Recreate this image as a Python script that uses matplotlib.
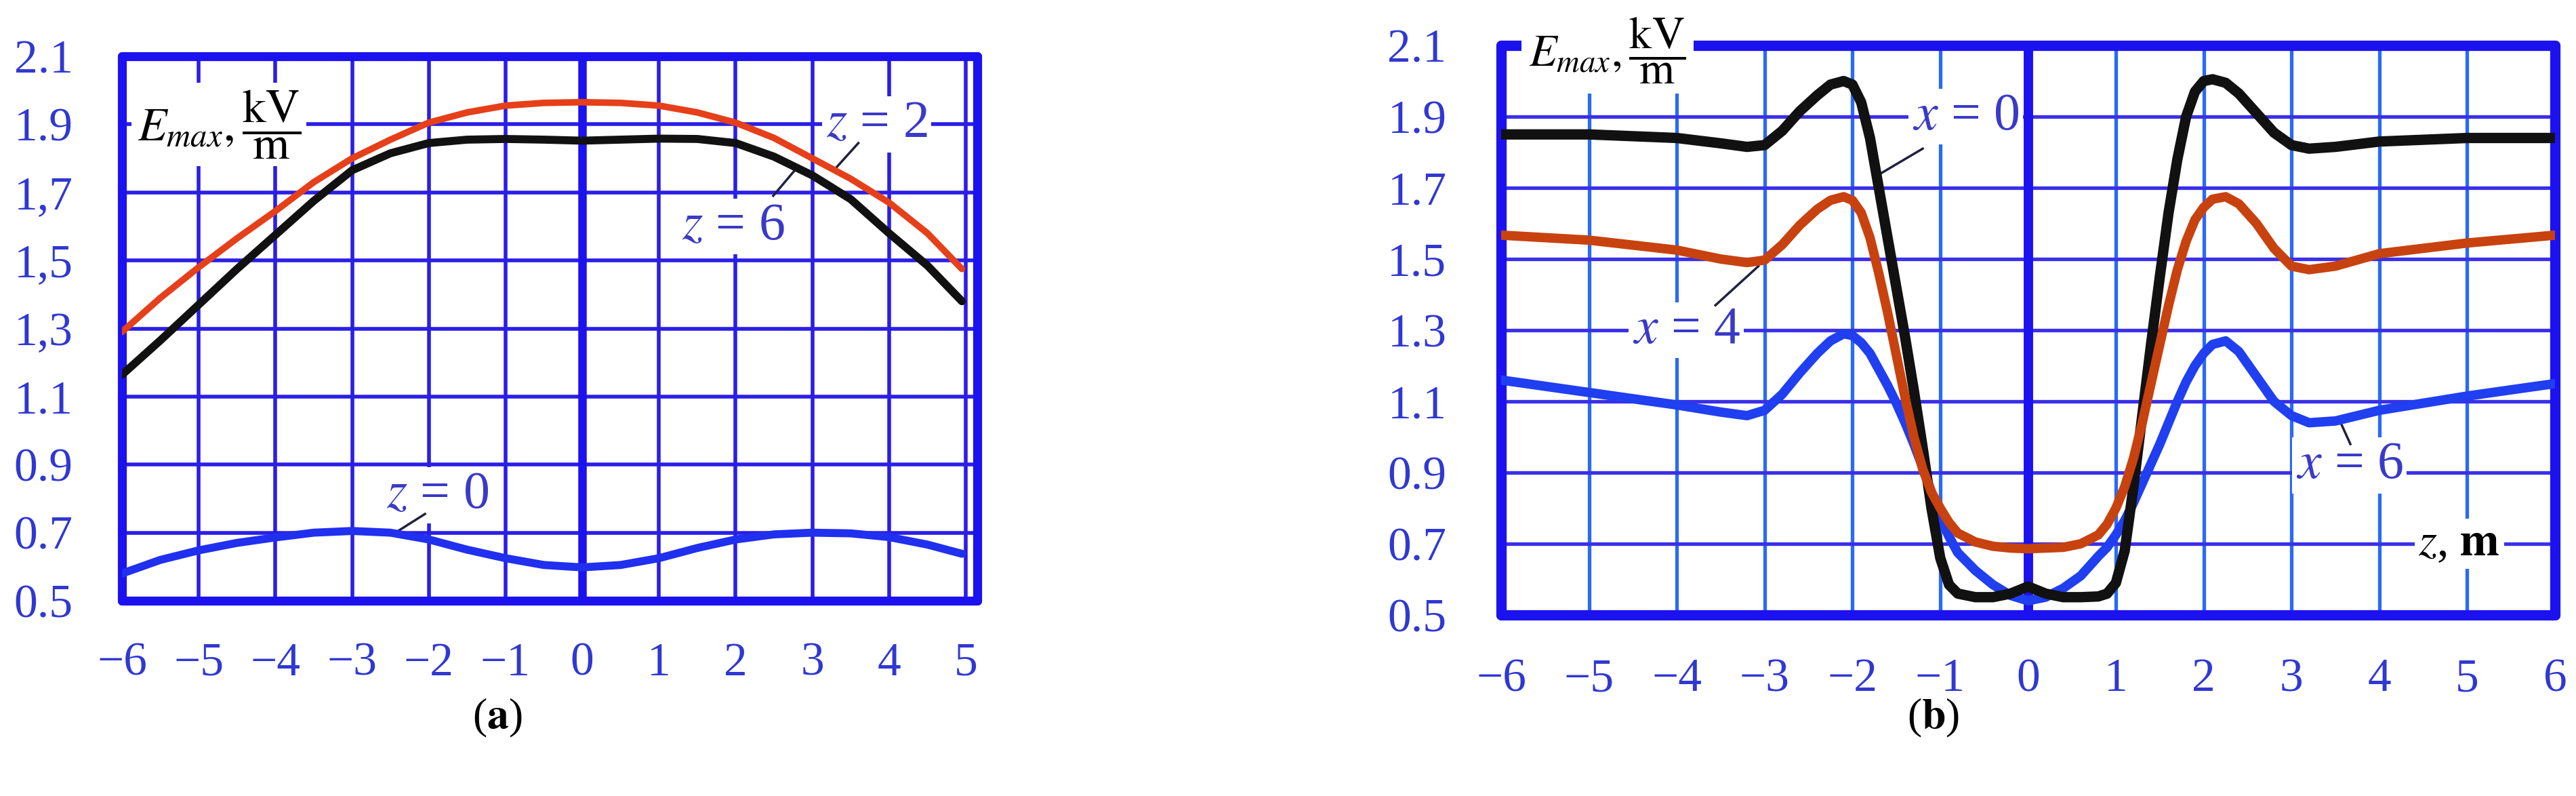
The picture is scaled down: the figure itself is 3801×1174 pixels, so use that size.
import matplotlib
matplotlib.use("Agg")
import matplotlib.pyplot as plt

plt.rcParams['font.family'] = ['Liberation Serif', 'DejaVu Serif']
plt.rcParams['mathtext.fontset'] = 'stix'

# ---------------- data: panel (a) ----------------
xa = [-6, -5.5, -5, -4.5, -4, -3.5, -3, -2.5, -2, -1.5, -1, -0.5, 0, 0.5, 1, 1.5, 2, 2.5, 3, 3.5, 4, 4.5, 4.95]
a_z2 = [1.29, 1.39, 1.48, 1.565, 1.645, 1.73, 1.80, 1.855, 1.905, 1.935, 1.955, 1.963, 1.965, 1.963, 1.955, 1.935, 1.905, 1.86, 1.80, 1.74, 1.67, 1.58, 1.475]
a_z6 = [1.164, 1.265, 1.37, 1.475, 1.575, 1.675, 1.765, 1.815, 1.845, 1.855, 1.857, 1.855, 1.852, 1.855, 1.858, 1.857, 1.845, 1.805, 1.75, 1.68, 1.58, 1.485, 1.38]
a_z0 = [0.58, 0.62, 0.648, 0.67, 0.686, 0.70, 0.705, 0.70, 0.68, 0.65, 0.625, 0.605, 0.598, 0.605, 0.625, 0.655, 0.68, 0.695, 0.70, 0.698, 0.687, 0.665, 0.638]

# ---------------- data: panel (b) ----------------
xb = [-6, -5, -4, -3.5, -3.2, -3, -2.8, -2.6, -2.4, -2.25, -2.1, -2, -1.9, -1.8, -1.7, -1.6, -1.5, -1.4, -1.3, -1.2,
      -1.1, -1, -0.9, -0.8, -0.6, -0.4, -0.2, 0, 0.2, 0.4, 0.6, 0.8, 0.9, 1, 1.1, 1.2, 1.3, 1.4, 1.5, 1.6,
      1.7, 1.8, 1.9, 2, 2.1, 2.25, 2.4, 2.6, 2.8, 3, 3.2, 3.5, 4, 5, 6]
b_x0 = [1.85, 1.85, 1.84, 1.825, 1.815, 1.82, 1.86, 1.915, 1.96, 1.99, 2.0, 1.99, 1.94, 1.84, 1.70, 1.56, 1.42, 1.28, 1.13, 0.97,
        0.80, 0.66, 0.585, 0.56, 0.55, 0.55, 0.56, 0.58, 0.56, 0.55, 0.55, 0.552, 0.56, 0.59, 0.68, 0.86, 1.06, 1.26, 1.45, 1.63,
        1.78, 1.90, 1.97, 2.0, 2.005, 1.995, 1.965, 1.91, 1.855, 1.82, 1.81, 1.815, 1.83, 1.84, 1.84]
b_x4 = [1.567, 1.553, 1.525, 1.50, 1.49, 1.497, 1.54, 1.595, 1.64, 1.665, 1.675, 1.665, 1.63, 1.56, 1.46, 1.35, 1.23, 1.11, 1.0, 0.91,
        0.845, 0.80, 0.76, 0.73, 0.705, 0.693, 0.688, 0.686, 0.688, 0.69, 0.70, 0.725, 0.755, 0.80, 0.86, 0.94, 1.04, 1.15, 1.26, 1.37,
        1.47, 1.55, 1.61, 1.645, 1.668, 1.675, 1.655, 1.60, 1.53, 1.48, 1.47, 1.48, 1.515, 1.545, 1.567]
b_x6 = [1.16, 1.125, 1.09, 1.07, 1.06, 1.075, 1.12, 1.18, 1.235, 1.27, 1.29, 1.285, 1.265, 1.235, 1.19, 1.145, 1.095, 1.04, 0.98, 0.915,
        0.845, 0.775, 0.72, 0.675, 0.625, 0.585, 0.555, 0.54, 0.55, 0.575, 0.61, 0.665, 0.69, 0.725, 0.765, 0.815, 0.87, 0.925, 0.98, 1.04,
        1.10, 1.155, 1.2, 1.235, 1.26, 1.27, 1.24, 1.17, 1.10, 1.06, 1.04, 1.045, 1.075, 1.115, 1.15]

# ---------------- ticks ----------------
yticks = [0.5, 0.7, 0.9, 1.1, 1.3, 1.5, 1.7, 1.9, 2.1]
ylabels_a = ['0.5', '0.7', '0.9', '1.1', '1,3', '1,5', '1,7', '1.9', '2.1']
ylabels_b = ['0.5', '0.7', '0.9', '1.1', '1.3', '1.5', '1.7', '1.9', '2.1']
xticks_a = [-6, -5, -4, -3, -2, -1, 0, 1, 2, 3, 4, 5]
xticks_b = [-6, -5, -4, -3, -2, -1, 0, 1, 2, 3, 4, 5, 6]

W, H = 3801, 1174
fig = plt.figure(figsize=(W / 100, H / 100), dpi=100)
fig.patch.set_facecolor('white')

FRAME = '#1c12f0'
TICKC = '#3038d2'
LBLC = '#3a3ac8'
WHITE = dict(facecolor='white', edgecolor='none', pad=4)


def px_axes(l, r, t, b):
    return fig.add_axes([l / W, 1 - b / H, (r - l) / W, (b - t) / H])


def setup(ax, xlim, xt, xl, yl, gridh, gridv, lw_grid, lw_frame, lw_zero, ypad, xpad):
    ax.set_xlim(*xlim)
    ax.set_ylim(0.5, 2.1)
    ax.set_xticks(xt)
    ax.set_xticklabels(xl)
    ax.set_yticks(yticks)
    ax.set_yticklabels(yl)
    ax.tick_params(axis='both', length=0, labelsize=50, labelcolor=TICKC)
    ax.tick_params(axis='y', pad=ypad)
    ax.tick_params(axis='x', pad=xpad)
    for v in xt:
        ax.axvline(v, color=gridv, lw=lw_grid, zorder=1)
    for v in yticks:
        ax.axhline(v, color=gridh, lw=lw_grid, zorder=1)
    ax.axvline(0, color=FRAME, lw=lw_zero, zorder=1.5)
    for s in ax.spines.values():
        s.set_color(FRAME)
        s.set_linewidth(lw_frame)
        s.set_zorder(2.5)
        s.set_capstyle('round')


def minus(v):
    return ('\u2212' + str(-v)) if v < 0 else str(v)


LINE = dict(solid_capstyle='round', solid_joinstyle='round')

# ---------------- panel (a) ----------------
axa = px_axes(180, 1442, 83, 886)
setup(axa, (-6, 5.15), xticks_a, [minus(v) for v in xticks_a], ylabels_a,
      '#2a1ee6', '#2a1ee6', 4.0, 9.5, 9.0, 52, 44)

axa.plot(xa, a_z0, color='#2030ee', lw=8.5, zorder=4, **LINE)
axa.plot(xa, a_z6, color='#111111', lw=8.5, zorder=4, **LINE)
axa.plot(xa, a_z2, color='#e5401a', lw=7.0, zorder=5, **LINE)

axa.text(-5.8, 1.9, r'$E_{max},\dfrac{\mathrm{kV}}{\mathrm{m}}$', fontsize=50, color='black',
         ha='left', va='center', bbox=dict(facecolor='white', edgecolor='none', pad=6), zorder=3)
axa.text(3.84, 1.9, r'$z$ = 2', fontsize=56, color=LBLC, ha='center', va='center', bbox=WHITE, zorder=3)
axa.plot([3.6, 3.32], [1.845, 1.775], color='#202040', lw=2.5, zorder=3.5)
axa.text(1.97, 1.60, r'$z$ = 6', fontsize=56, color=LBLC, ha='center', va='center', bbox=WHITE, zorder=3)
axa.plot([2.49, 2.79], [1.69, 1.77], color='#202040', lw=2.5, zorder=3.5)
axa.text(-1.89, 0.81, r'$z$ = 0', fontsize=56, color=LBLC, ha='center', va='center', bbox=WHITE, zorder=3)
axa.plot([-2.4, -2.05], [0.705, 0.755], color='#202040', lw=2.5, zorder=3.5)

# ---------------- panel (b) ----------------
axb = px_axes(2215, 3770, 67, 907)
setup(axb, (-6, 6), xticks_b, [minus(v) for v in xticks_b], ylabels_b,
      '#3a30e8', '#2a6af5', 3.8, 11.0, 10.0, 58, 46)

axb.plot(xb, b_x6, color='#1f3ff0', lw=10, zorder=4, **LINE)
axb.plot(xb, b_x4, color='#c8420f', lw=10, zorder=5, **LINE)
axb.plot(xb, b_x0, color='#111111', lw=11, zorder=4.5, **LINE)

axb.text(-5.68, 2.085, r'$E_{max},\dfrac{\mathrm{kV}}{\mathrm{m}}$', fontsize=48, color='black',
         ha='left', va='center', bbox=dict(facecolor='white', edgecolor='none', pad=8), zorder=3, clip_on=False)
axb.text(-0.71, 1.9, r'$x$ = 0', fontsize=56, color=LBLC, ha='center', va='center', bbox=WHITE, zorder=3)
axb.plot([-1.2, -1.68], [1.81, 1.74], color='#202040', lw=2.5, zorder=3.5)
axb.text(-3.89, 1.30, r'$x$ = 4', fontsize=56, color=LBLC, ha='center', va='center', bbox=WHITE, zorder=3)
axb.plot([-3.56, -3.07], [1.37, 1.48], color='#202040', lw=2.5, zorder=3.5)
axb.text(3.66, 0.92, r'$x$ = 6', fontsize=56, color=LBLC, ha='center', va='center', bbox=WHITE, zorder=3)
axb.plot([3.67, 3.56], [0.98, 1.04], color='#202040', lw=2.5, zorder=3.5)
axb.text(4.91, 0.70, r'$z$, $\mathbf{m}$', fontsize=50, color='black', ha='center', va='center',
         bbox=WHITE, zorder=3)

# ---------------- captions ----------------
fig.text(734 / W, 1 - 1059 / H, r'($\mathbf{a}$)', fontsize=46, ha='center', va='center', color='black')
fig.text(2853 / W, 1 - 1059 / H, r'($\mathbf{b}$)', fontsize=46, ha='center', va='center', color='black')

fig.savefig('out.png', dpi=100, facecolor='white')
